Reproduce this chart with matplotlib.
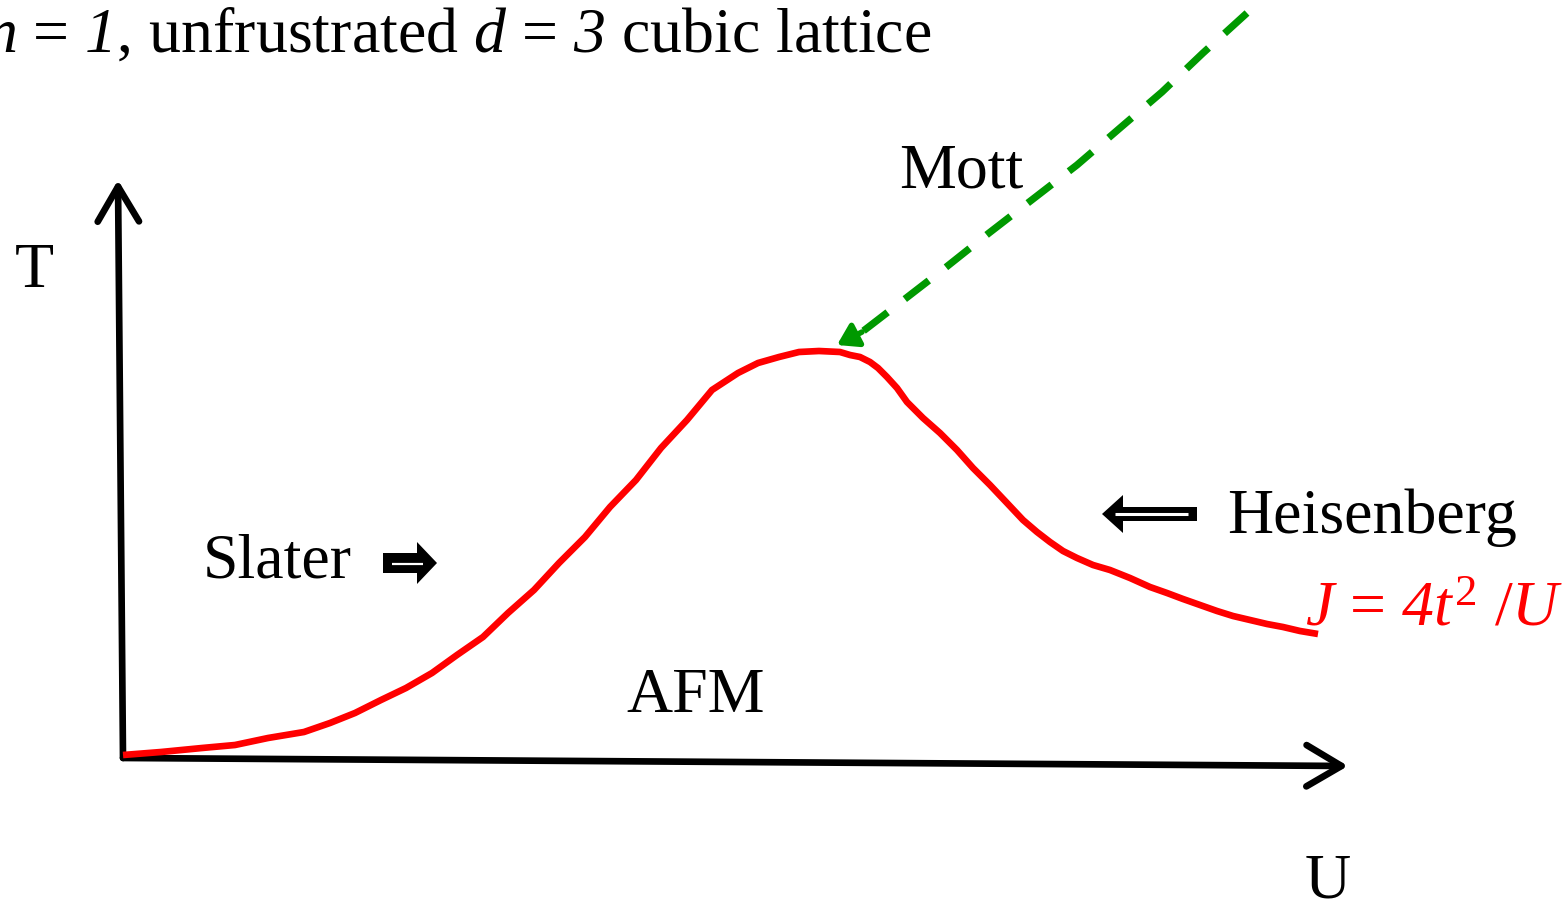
import matplotlib.pyplot as plt
from matplotlib.patches import FancyArrow

plt.rcParams['font.family'] = ['Liberation Serif', 'DejaVu Serif']
plt.rcParams['mathtext.fontset'] = 'custom'
plt.rcParams['mathtext.rm'] = 'Liberation Serif'
plt.rcParams['mathtext.it'] = 'Liberation Serif:italic'
# italic digits: mathtext forces digits in \mathit to roman, so borrow \mathsf
plt.rcParams['mathtext.sf'] = 'Liberation Serif:italic'

# red Neel temperature curve, picture pixels (x right, y down)
curve_x = [123, 161, 202, 235, 268, 304, 330, 355, 381, 406, 432, 457, 483, 508,
           534, 559, 585, 610, 636, 661, 687, 712, 738, 758, 779, 799, 819, 840,
           850, 860, 870, 878, 887, 897, 907, 923, 940, 957, 973, 990, 1007, 1023,
           1037, 1050, 1063, 1077, 1093, 1110, 1130, 1150, 1167, 1183, 1200, 1217,
           1233, 1250, 1267, 1283, 1300, 1318]
curve_y = [755, 752, 748, 745, 738, 732, 723, 713, 700, 688, 673, 655, 637, 613,
           590, 563, 537, 507, 480, 448, 420, 390, 373, 363, 357, 352, 351, 352,
           355, 357, 362, 368, 377, 388, 402, 418, 433, 450, 468, 485, 503, 520,
           532, 542, 551, 558, 565, 570, 578, 587, 593, 599, 605, 611,
           616, 620, 624, 627, 631, 634]

# green dashed "Mott" pointer
mott_x = [1247, 1203, 1162, 1120, 1077, 1033, 989, 945, 901, 862]
mott_y = [13, 53, 92, 128, 165, 199, 233, 268, 302, 332]

# axes corners
origin = (123, 758)
t_tip = (118, 180)
u_tip = (1348, 766)

fig = plt.figure(figsize=(15.68, 9), dpi=100)
ax = fig.add_axes([0, 0, 1, 1])
ax.set_xlim(0, 1568)
ax.set_ylim(900, 0)
ax.axis('off')

# axes arrows
for tip in (t_tip, u_tip):
    ax.annotate('', xy=tip, xytext=origin,
                arrowprops=dict(arrowstyle='->,head_length=1.05,head_width=0.62',
                                mutation_scale=24, lw=4.8, color='black',
                                capstyle='round', joinstyle='round',
                                shrinkA=0, shrinkB=0))

ax.plot(curve_x, curve_y, color='#ff0000', lw=4.8, solid_capstyle='butt',
        solid_joinstyle='round', zorder=3)

ax.plot(mott_x, mott_y, color='#009900', lw=5.2, dashes=(4.2, 3.0), zorder=3)
ax.annotate('', xy=(837, 345), xytext=(mott_x[-1], mott_y[-1]),
            arrowprops=dict(arrowstyle='-|>,head_length=0.55,head_width=0.35',
                            mutation_scale=22, lw=4, color='#009900',
                            joinstyle='round', shrinkA=0, shrinkB=0))

# hollow double arrows
ax.add_patch(FancyArrow(383, 563, 54, 0, width=20, head_width=42, head_length=20,
                        length_includes_head=True, color='black', lw=0))
ax.plot([392, 423], [564, 564], color='white', lw=1.6, solid_capstyle='butt')
ax.add_patch(FancyArrow(1197, 514, -95, 0, width=14, head_width=38, head_length=21,
                        length_includes_head=True, color='black', lw=0))
ax.plot([1115, 1188], [514, 514], color='white', lw=2.2, solid_capstyle='butt')

fs = 46
ax.text(-15, 52, r'$n$ = $\mathsf{1}$, unfrustrated $d$ = $\mathsf{3}$ cubic lattice',
        fontsize=fs, ha='left', va='baseline')
ax.text(961, 187, 'Mott', fontsize=fs, ha='center', va='baseline')
ax.text(34, 287, 'T', fontsize=fs, ha='center', va='baseline')
ax.text(203, 577, 'Slater', fontsize=fs, ha='left', va='baseline')
ax.text(1227, 533, 'Heisenberg', fontsize=fs, ha='left', va='baseline')
ax.text(1305, 625, r'$J$ = $\mathsf{4}t^{\mathrm{2}}$ /$U$', fontsize=fs, ha='left',
        va='baseline', color='#ff0000')
ax.text(696, 712, 'AFM', fontsize=fs, ha='center', va='baseline')
ax.text(1328, 897, 'U', fontsize=fs, ha='center', va='baseline')

fig.savefig('out.png', dpi=100)
